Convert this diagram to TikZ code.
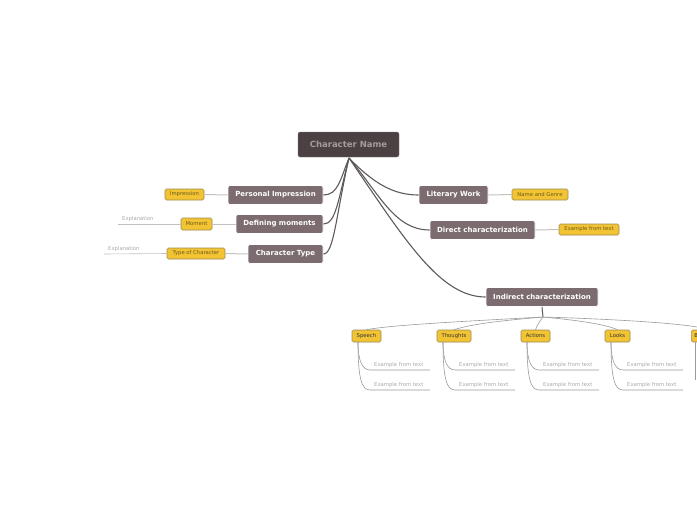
\documentclass[tikz,border=0pt]{standalone}
\usepackage{fontspec}
\setmainfont{DejaVu Sans}
\usetikzlibrary{shadows}
\definecolor{cdark}{HTML}{4B4143}
\definecolor{ctext}{HTML}{A39B9C}
\definecolor{cgray}{HTML}{7C6C70}
\definecolor{cyel}{HTML}{F2C433}
\definecolor{cyelb}{HTML}{9C8A52}
\definecolor{cyelt}{HTML}{6E5A1E}
\definecolor{cline}{HTML}{5F595B}
\definecolor{clight}{HTML}{C4C0C0}
\definecolor{csub}{HTML}{9A9A9A}
\definecolor{csubt}{HTML}{A8A8A8}
\tikzset{
  x=1pt,y=-1pt,
  rootbox/.style={fill=cdark,draw=cdark!70,rounded corners=2pt,inner sep=0pt,
    text=ctext,font=\fontsize{8.5}{10}\selectfont\bfseries,minimum width=101pt,minimum height=25pt},
  mainbox/.style={fill=cgray,draw=white,line width=0.8pt,rounded corners=2pt,inner sep=0pt,
    text=white,font=\fontsize{7}{8}\selectfont\bfseries,minimum height=19pt,
    drop shadow={opacity=0.15,shadow xshift=0pt,shadow yshift=-0.6pt}},
  yelbox/.style={fill=cyel,draw=cyelb,line width=0.6pt,rounded corners=1.5pt,inner sep=0pt,
    text=cyelt,font=\fontsize{5.3}{6}\selectfont,minimum height=11pt},
  subbox/.style={fill=cyel,draw=cyelb,line width=0.6pt,rounded corners=1.5pt,inner sep=0pt,
    text=black!80,font=\fontsize{5.3}{6}\selectfont,minimum height=12pt},
  smalltext/.style={text=csubt,font=\fontsize{5.3}{6}\selectfont,inner sep=0pt,anchor=south west},
  rootline/.style={draw=cline,line width=1.1pt},
  yline/.style={draw=clight,line width=1pt},
  subline/.style={draw=csub,line width=0.6pt},
}
\begin{document}
\begin{tikzpicture}
\useasboundingbox (0,0) rectangle (697,520);
\clip (0,0) rectangle (697,520);
% root
\node[rootbox] (root) at (348.5,144.5) {Character Name};
\coordinate (rb) at (349,158);
% left
\node[mainbox,minimum width=95pt] (pi) at (275.5,195) {Personal Impression};
\node[mainbox,minimum width=87pt] (dm) at (279.5,224) {Defining moments};
\node[mainbox,minimum width=75pt] (ct) at (285.5,254) {Character Type};
% right
\node[mainbox,minimum width=69pt] (lw) at (453.5,195) {Literary Work};
\node[mainbox,minimum width=105pt] (dc) at (482.5,230) {Direct characterization};
\node[mainbox,minimum width=112pt] (ic) at (542,297) {Indirect characterization};
% root connectors
\draw[rootline] (rb) .. controls (340,180) and (338,195) .. (pi.east);
\draw[rootline] (rb) .. controls (338,200) and (336,224) .. (dm.east);
\draw[rootline] (rb) .. controls (336,215) and (334,254) .. (ct.east);
\draw[rootline] (rb) .. controls (375,185) and (395,195) .. (lw.west);
\draw[rootline] (rb) .. controls (380,195) and (395,230) .. (dc.west);
\draw[rootline] (rb) .. controls (405,240) and (440,297) .. (ic.west);
% yellow leaves
\node[yelbox,minimum width=39pt] (imp) at (184.5,194.5) {Impression};
\node[yelbox,minimum width=31pt,minimum height=12pt] (mom) at (196.5,224) {Moment};
\node[yelbox,minimum width=58pt] (toc) at (196,253.5) {Type of Character};
\node[yelbox,minimum width=56pt] (nag) at (540,194.5) {Name and Genre};
\node[yelbox,minimum width=60pt] (eft) at (589,229.5) {Example from text};
\draw[yline] (pi.west) -- (imp.east);
\draw[yline] (dm.west) -- (mom.east);
\draw[yline] (ct.west) -- (toc.east);
\draw[yline] (lw.east) -- (nag.west);
\draw[yline] (dc.east) -- (eft.west);
% explanations
\coordinate (e1) at (118,224);
\coordinate (e2) at (104,254);
\draw[subline,draw=clight] (mom.west) -- (e1);
\draw[subline,draw=clight] (toc.west) -- (e2);
\node[smalltext] (ex1) at (122,222) {Explanation};
\node[smalltext] (ex2) at (108,252) {Explanation};
% indirect children
\coordinate (ib) at (543,317);
\draw[rootline,line width=1pt] (ic.south) -- (ib);
\node[subbox,minimum width=29pt] (sp) at (366.5,336) {Speech};
\node[subbox,minimum width=34pt] (th) at (454,336) {Thoughts};
\node[subbox,minimum width=29pt] (ac) at (535.5,336) {Actions};
\node[subbox,minimum width=25pt] (lo) at (617.5,336) {Looks};
\node[subbox,minimum width=30pt,anchor=west,text width=24pt,align=left] (be) at (691,336) {B};
\draw[subline] (ib) .. controls (470,321) and (390,325) .. (sp.north);
\draw[subline] (ib) .. controls (510,320) and (475,323) .. (th.north);
\draw[subline] (ib) .. controls (540,321) and (537,325) .. (ac.north);
\draw[subline] (ib) .. controls (575,320) and (605,324) .. (lo.north);
\draw[subline] (ib) .. controls (610,319) and (680,323) .. (702,328);
% example from text leaves
\foreach \n/\l in {sp/352,th/437,ac/521,lo/605}{
  \coordinate (\n a) at (\l+18,370);
  \coordinate (\n b) at (\l+18,390);
  \coordinate (\n ae) at (\l+78,370);
  \coordinate (\n be) at (\l+78,390);
  \draw[subline] (\l+6,342) .. controls (\l+6,360) and (\l+10,370) .. (\n a) -- (\n ae);
  \draw[subline] (\l+6,342) .. controls (\l+6,380) and (\l+10,390) .. (\n b) -- (\n be);
  \node[smalltext] (\n ta) at (\l+22,368) {Example from text};
  \node[smalltext] (\n tb) at (\l+22,388) {Example from text};
}
\coordinate (bl) at (695.5,380);
\draw[subline] (be.south west) ++(4.5,0) -- (bl);
\end{tikzpicture}
\end{document}
